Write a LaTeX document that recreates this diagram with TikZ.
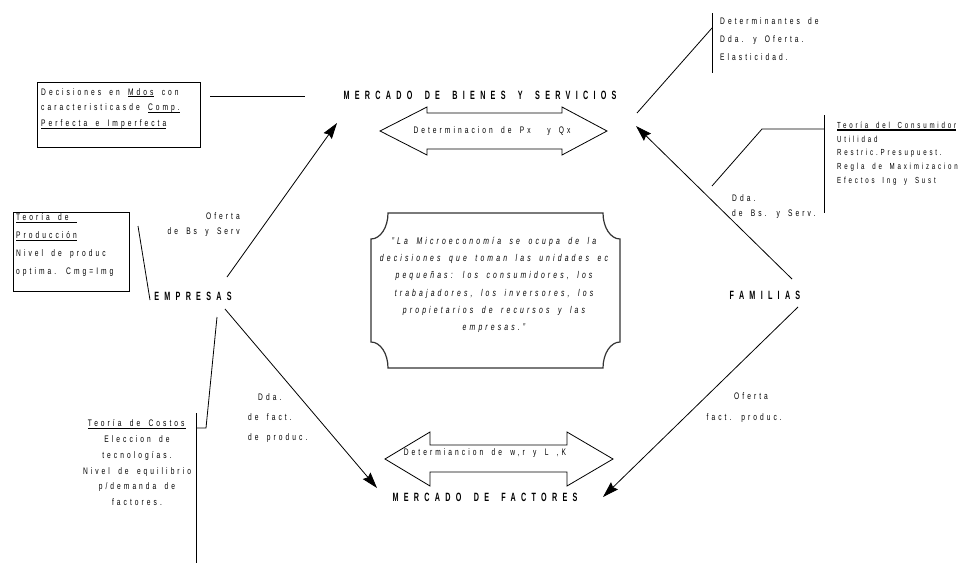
\documentclass[tikz,border=0pt]{standalone}
\usepackage{fontspec}
\setmainfont{Liberation Sans}[FakeStretch=0.7,LetterSpace=32,WordSpace=1.7]
\newfontfamily\hdfont{Liberation Sans}[FakeStretch=0.6,LetterSpace=44,WordSpace=1.7]
\usetikzlibrary{arrows.meta}
\newcommand\myul[1]{\setbox0\hbox{#1}\rlap{\rule[-2.4pt]{\wd0}{1.3pt}}\box0}
\begin{document}
\begin{tikzpicture}[x=1pt,y=-1pt,
  txt/.style={inner sep=0pt,font=\fontsize{9.5}{15.8}\selectfont},
  hd/.style={inner sep=0pt,font=\hdfont\bfseries\fontsize{12}{14}\selectfont},
  ln/.style={line width=0.8pt},
  arr/.style={line width=0.8pt,-{Stealth[length=16pt,width=10pt,inset=2pt]}},
  frame/.style={draw,line width=1pt}]
\useasboundingbox (0,0) rectangle (965,563);

% ---------- top left box ----------
\draw[frame] (37,82) rectangle (200,147);
\node[txt,anchor=north west,align=left] (dec) at (41,88)
  {Decisiones en \myul{Mdos}\ con\\caracteristicasde \myul{Comp.}\\\myul{Perfecta e Imperfecta}};
\coordinate (decR) at (210,96);
\coordinate (mbsL) at (305,96);
\draw[ln] (decR) -- (mbsL);

% ---------- market labels ----------
\node[hd] (mbs) at (480,95) {MERCADO DE BIENES Y SERVICIOS};
\node[hd] (mf) at (485,497) {MERCADO DE FACTORES};
\node[hd] (emp) at (193,296) {EMPRESAS};
\node[hd] (fam) at (765,295) {FAMILIAS};

% ---------- double arrows ----------
\draw[ln] (380,131) -- (427,107) -- (427,113) -- (562,113) -- (562,107) -- (607,131)
  -- (562,155) -- (562,149) -- (427,149) -- (427,155) -- cycle;
\node[txt] (px) at (492,131) {Determinacion de Px \ y Qx};
\draw[ln] (385,459) -- (430,432) -- (430,445) -- (567,445) -- (567,432) -- (613,459)
  -- (567,486) -- (567,472) -- (430,472) -- (430,486) -- cycle;
\node[txt] (wr) at (485,453) {Determiancion de w,r y L ,K};

% ---------- main arrows ----------
\coordinate (e1) at (227,277); \coordinate (m1) at (337,123);
\coordinate (f1) at (792,279); \coordinate (m2) at (636,126);
\coordinate (e2) at (225,309); \coordinate (m3) at (377,488);
\coordinate (f2) at (798,307); \coordinate (m4) at (603,497);
\draw[arr] (e1) -- (m1);
\draw[arr] (f1) -- (m2);
\draw[arr] (e2) -- (m3);
\draw[arr] (f2) -- (m4);

% ---------- arrow labels ----------
\node[txt,anchor=north east,align=right] (of1) at (240,212) {Oferta\\de Bs y Serv};
\node[txt,anchor=north west,align=left] (dd1) at (732,194) {Dda.\\de Bs. y Serv.};
\node[txt] (of2) at (751,396) {Oferta};
\node[txt,anchor=east] (of3) at (782,418) {fact. produc.};
\node[txt,anchor=west] (dd2) at (258,397) {Dda.};
\node[txt,anchor=west] (dd3) at (248,417) {de fact.};
\node[txt,anchor=west] (dd4) at (248,438) {de produc.};

% ---------- Teoria de Produccion ----------
\draw[frame] (13,212) rectangle (129,291);
\node[txt,anchor=north west,align=left,font=\fontsize{9.5}{18}\selectfont] (prod) at (16,213.5)
  {\myul{Teoría de }\\\myul{Producción}\\Nivel de produc\\optima. Cmg=Img};
\coordinate (p1) at (138,226); \coordinate (p2) at (150,300);
\draw[ln] (p1) -- (p2);

% ---------- Teoria de Costos ----------
\node[txt,anchor=north,align=center] (cost) at (137,419.5)
  {\myul{Teoría de Costos\,}\\Eleccion de\\tecnologías.\\Nivel de equilibrio\\p/demanda de\\factores.};
\coordinate (c1) at (196,413); \coordinate (c2) at (196,563);
\coordinate (c3) at (196,428); \coordinate (c4) at (206,428); \coordinate (c5) at (217,317);
\draw[ln] (c1) -- (c2);
\draw[ln] (c3) -- (c4) -- (c5);

% ---------- Determinantes ----------
\node[txt,anchor=north west,align=left,font=\fontsize{9.5}{18}\selectfont] (det) at (720,17.5)
  {Determinantes de\\Dda. y Oferta.\\Elasticidad.};
\coordinate (d1) at (712,13); \coordinate (d2) at (712,73);
\coordinate (d3) at (637,113); \coordinate (d4) at (712,28);
\draw[ln] (d1) -- (d2);
\draw[ln] (d3) -- (d4);

% ---------- Teoria del Consumidor ----------
\node[txt,anchor=north west,align=left,font=\fontsize{8.8}{13.8}\selectfont] (cons) at (837,121.7)
  {\myul{Teoría del Consumidor}\\Utilidad\\Restric.Presupuest.\\Regla de Maximizacion\\Efectos Ing y Sust};
\coordinate (k1) at (824,115); \coordinate (k2) at (824,213);
\coordinate (k3) at (824,129); \coordinate (k4) at (762,129); \coordinate (k5) at (712,186);
\draw[ln] (k1) -- (k2);
\draw[ln] (k3) -- (k4) -- (k5);

% ---------- central plaque ----------
\draw[line width=1.2pt,draw=black!80] (388,213) -- (603,213)
  .. controls (603,227.4) and (610.6,239) .. (620,239)
  -- (620,342) .. controls (610.6,342) and (603,353.6) .. (603,368)
  -- (388,368) .. controls (388,353.6) and (380.4,342) .. (371,342)
  -- (371,239) .. controls (380.4,239) and (388,227.4) .. (388,213) -- cycle;
\node[txt,align=center,font=\itshape\fontsize{9.8}{17.2}\selectfont] (quote) at (494,285)
  {"La Microeconomía se ocupa de la\\decisiones que toman las unidades ec\\pequeñas: los consumidores, los\\trabajadores, los inversores, los\\propietarios de recursos y las\\empresas."};
\end{tikzpicture}
\end{document}
